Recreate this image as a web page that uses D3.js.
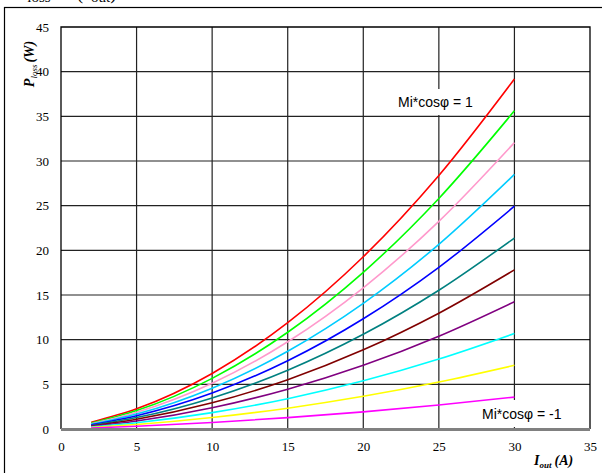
<!DOCTYPE html>
<html>
<head>
<meta charset="utf-8">
<script src="https://cdn.jsdelivr.net/npm/d3@7"></script>
<style>
  body { margin: 0; background: #fff; }
  svg { display: block; }
</style>
</head>
<body>
<svg id="chart" width="602" height="473"></svg>
<script>
// current values where the curves are sampled (A)
var currents = [2, 5, 10, 15, 20, 25, 30];

// Mi*cos(phi) per curve, top to bottom
var modIndex = [1, 0.8, 0.6, 0.4, 0.2, 0, -0.2, -0.4, -0.6, -0.8, -1];

// loss (W) per curve, read at the currents above
var lossRed     = [0.75, 2.26, 6.22, 11.90, 19.28, 28.38, 39.18];
var lossGreen   = [0.66, 2.06, 5.67, 10.83, 17.54, 25.81, 35.62];
var lossPink    = [0.58, 1.87, 5.12, 9.77, 15.81, 23.24, 32.06];
var lossSky     = [0.52, 1.67, 4.57, 8.71, 14.07, 20.67, 28.50];
var lossBlue    = [0.46, 1.48, 4.02, 7.64, 12.34, 18.10, 24.94];
var lossTeal    = [0.40, 1.28, 3.48, 6.58, 10.60, 15.53, 21.38];
var lossMaroon  = [0.34, 1.09, 2.93, 5.52, 8.86, 12.96, 17.81];
var lossPurple  = [0.29, 0.89, 2.38, 4.46, 7.13, 10.39, 14.25];
var lossCyan    = [0.23, 0.70, 1.83, 3.39, 5.39, 7.83, 10.69];
var lossYellow  = [0.17, 0.50, 1.28, 2.33, 3.66, 5.26, 7.13];
var lossMagenta = [0.11, 0.31, 0.73, 1.27, 1.92, 2.69, 3.57];

var xTicks = [0, 5, 10, 15, 20, 25, 30, 35];
var yTicks = [0, 5, 10, 15, 20, 25, 30, 35, 40, 45];

var series = [lossRed, lossGreen, lossPink, lossSky, lossBlue, lossTeal,
    lossMaroon, lossPurple, lossCyan, lossYellow, lossMagenta];
var colors = ['#ff0000', '#00ff00', '#ff99cc', '#00ccff', '#0000ff', '#008080',
    '#800000', '#800080', '#00ffff', '#ffff00', '#ff00ff'];

var svg = d3.select('#chart');

var x = d3.scaleLinear().domain([0, 35]).range([61, 590]);
var y = d3.scaleLinear().domain([0, 45]).range([429, 27]);

// outer frame (runs off the picture on the right and bottom)
svg.append('rect')
    .attr('x', 4.5).attr('y', 7.5)
    .attr('width', 640).attr('height', 500)
    .attr('fill', 'none')
    .attr('stroke', '#000')
    .attr('stroke-width', 1.2);

// title, mostly cut off above the frame
var title = svg.append('text')
    .attr('font-family', 'Liberation Serif, serif')
    .attr('font-size', 20)
    .attr('y', -1);
title.append('tspan').attr('x', 15).attr('font-weight', 'bold').attr('font-style', 'italic').text('P');
title.append('tspan').attr('font-size', 15).attr('dy', 3).text('loss');
title.append('tspan').attr('dy', -3).attr('dx', 26).text('(');
title.append('tspan').attr('font-weight', 'bold').attr('font-style', 'italic').text('I');
title.append('tspan').attr('font-size', 15).attr('dy', 3).text('out');
title.append('tspan').attr('dy', -3).text(')');

// grid
var grid = svg.append('g');
grid.selectAll('line.v')
    .data(xTicks.filter(function (d) { return d > 0 && d < 35; }))
    .enter().append('line')
    .attr('x1', function (d) { return x(d); })
    .attr('x2', function (d) { return x(d); })
    .attr('y1', y(45)).attr('y2', y(0))
    .attr('stroke', '#222').attr('stroke-width', 1.2);
grid.selectAll('line.h')
    .data(yTicks.filter(function (d) { return d > 0 && d < 45; }))
    .enter().append('line')
    .attr('y1', function (d) { return y(d); })
    .attr('y2', function (d) { return y(d); })
    .attr('x1', x(0)).attr('x2', x(35))
    .attr('stroke', '#222').attr('stroke-width', 1.2);

// white boxes behind the annotations (they hide the grid, not the curves)
function box(bx, by, bw, bh) {
    svg.append('rect')
        .attr('x', bx).attr('y', by)
        .attr('width', bw).attr('height', bh)
        .attr('fill', '#fff');
}
box(392, 89, 90, 26);
box(474, 400, 112, 27);

// plot border
svg.append('path')
    .attr('d', 'M' + x(0) + ',' + y(0) + 'V' + y(45) + 'H' + x(35) + 'V' + y(0))
    .attr('fill', 'none')
    .attr('stroke', '#000')
    .attr('stroke-width', 1.3);

// curves
var line = d3.line()
    .x(function (d, i) { return x(currents[i]); })
    .y(function (d) { return y(d); })
    .curve(d3.curveMonotoneX);

svg.append('g').selectAll('path')
    .data(series)
    .enter().append('path')
    .attr('d', line)
    .attr('fill', 'none')
    .attr('stroke', function (d, i) { return colors[i]; })
    .attr('stroke-width', 1.6);

// bottom axis line (grey, thick)
svg.append('line')
    .attr('x1', x(0)).attr('x2', x(35))
    .attr('y1', y(0) + 0.5).attr('y2', y(0) + 0.5)
    .attr('stroke', '#808080')
    .attr('stroke-width', 3);

// tick labels
var xAxis = d3.axisBottom(x).tickValues(xTicks).tickSize(0).tickPadding(13);
var gx = svg.append('g').attr('transform', 'translate(0,' + y(0) + ')').call(xAxis);
gx.select('.domain').remove();
gx.selectAll('text')
    .attr('font-family', 'Liberation Serif, serif')
    .attr('font-size', 13)
    .attr('fill', '#000');

var yAxis = d3.axisLeft(y).tickValues(yTicks).tickSize(0).tickPadding(12);
var gy = svg.append('g').attr('transform', 'translate(' + x(0) + ',0)').call(yAxis);
gy.select('.domain').remove();
gy.selectAll('text')
    .attr('font-family', 'Liberation Serif, serif')
    .attr('font-size', 13)
    .attr('fill', '#000');

// axis titles
var yTitle = svg.append('text')
    .attr('transform', 'translate(34,64) rotate(-90)')
    .attr('text-anchor', 'middle')
    .attr('font-family', 'Liberation Serif, serif')
    .attr('font-weight', 'bold')
    .attr('font-style', 'italic')
    .attr('font-size', 14);
yTitle.append('tspan').text('P');
yTitle.append('tspan').attr('font-size', 9).attr('dy', 3).attr('font-weight', 'normal').text('loss');
yTitle.append('tspan').attr('dy', -3).attr('dx', 2).text('(W)');

var xTitle = svg.append('text')
    .attr('x', 534).attr('y', 465)
    .attr('font-family', 'Liberation Serif, serif')
    .attr('font-weight', 'bold')
    .attr('font-style', 'italic')
    .attr('font-size', 14);
xTitle.append('tspan').text('I');
xTitle.append('tspan').attr('font-size', 9).attr('dy', 3).text('out');
xTitle.append('tspan').attr('dy', -3).attr('dx', 3).text('(A)');

// curve annotations
function note(label, tx, ty) {
    svg.append('text')
        .attr('x', tx).attr('y', ty)
        .attr('font-family', 'Liberation Sans, Arial, sans-serif')
        .attr('font-size', 14)
        .attr('fill', '#000')
        .text(label);
}
note('Mi*cos\u03c6 = ' + modIndex[0], 398, 107);
note('Mi*cos\u03c6 = ' + modIndex[modIndex.length - 1], 482, 419);
</script>
</body>
</html>
